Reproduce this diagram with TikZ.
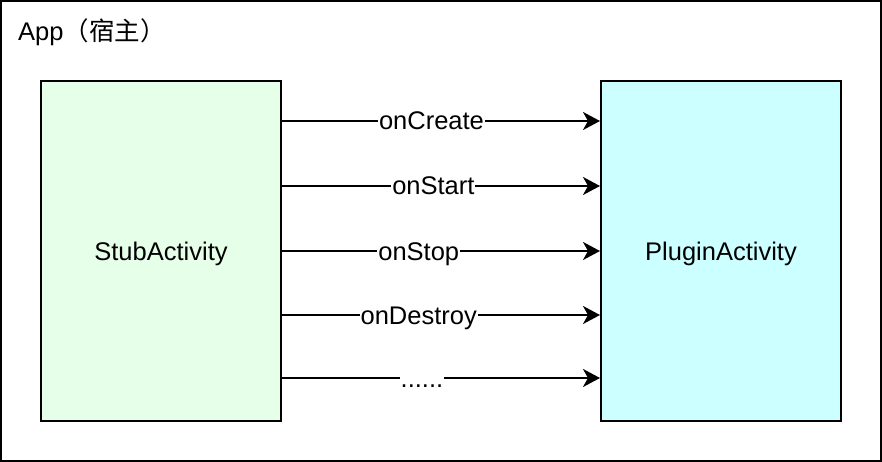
\documentclass[tikz,border=0pt]{standalone}
\usepackage{fontspec}
\setmainfont{Liberation Sans}
\newfontfamily\cjk{Noto Sans CJK SC}
\usetikzlibrary{arrows.meta}
\definecolor{stubfill}{RGB}{230,255,233}
\definecolor{plugfill}{RGB}{204,255,255}
\newcommand{\moredots}{......}
\tikzset{
  actbox/.style={draw, line width=2pt, minimum width=240pt, minimum height=340pt,
    text height=18pt, text depth=0pt, font=\fontsize{25.5}{30}\selectfont},
  call/.style={line width=2pt, -{Stealth[length=17pt,width=18pt,inset=5pt]}},
  lbl/.style={fill=white, inner sep=1pt, text height=18pt, text depth=0pt,
    font=\fontsize{25.5}{30}\selectfont}
}
\begin{document}
\begin{tikzpicture}[x=1pt,y=-1pt]
      \useasboundingbox (0,0) rectangle (882,462);
      % host frame
      \draw[line width=2pt] (1,1) rectangle (881,461);
      \node[anchor=west, inner sep=0pt, font=\fontsize{25.5}{30}\selectfont] at (18,32) (host) {App\cjk（宿主）};
      % activities
      \node[actbox, fill=stubfill] at (161,251) (stub) {StubActivity};
      \node[actbox, fill=plugfill] at (721,251) (plugin) {PluginActivity};
      % lifecycle calls
      \foreach \dy/\txt/\p in {130/onCreate/0.47, 65/onStart/0.476, 0/onStop/0.43,
          -64/onDestroy/0.43, -127/\moredots/0.44}
        \draw[call] ([yshift=\dy pt]stub.east) -- ([yshift=\dy pt]plugin.west)
          node[lbl, pos=\p] {\txt};
    \end{tikzpicture}
\end{document}
